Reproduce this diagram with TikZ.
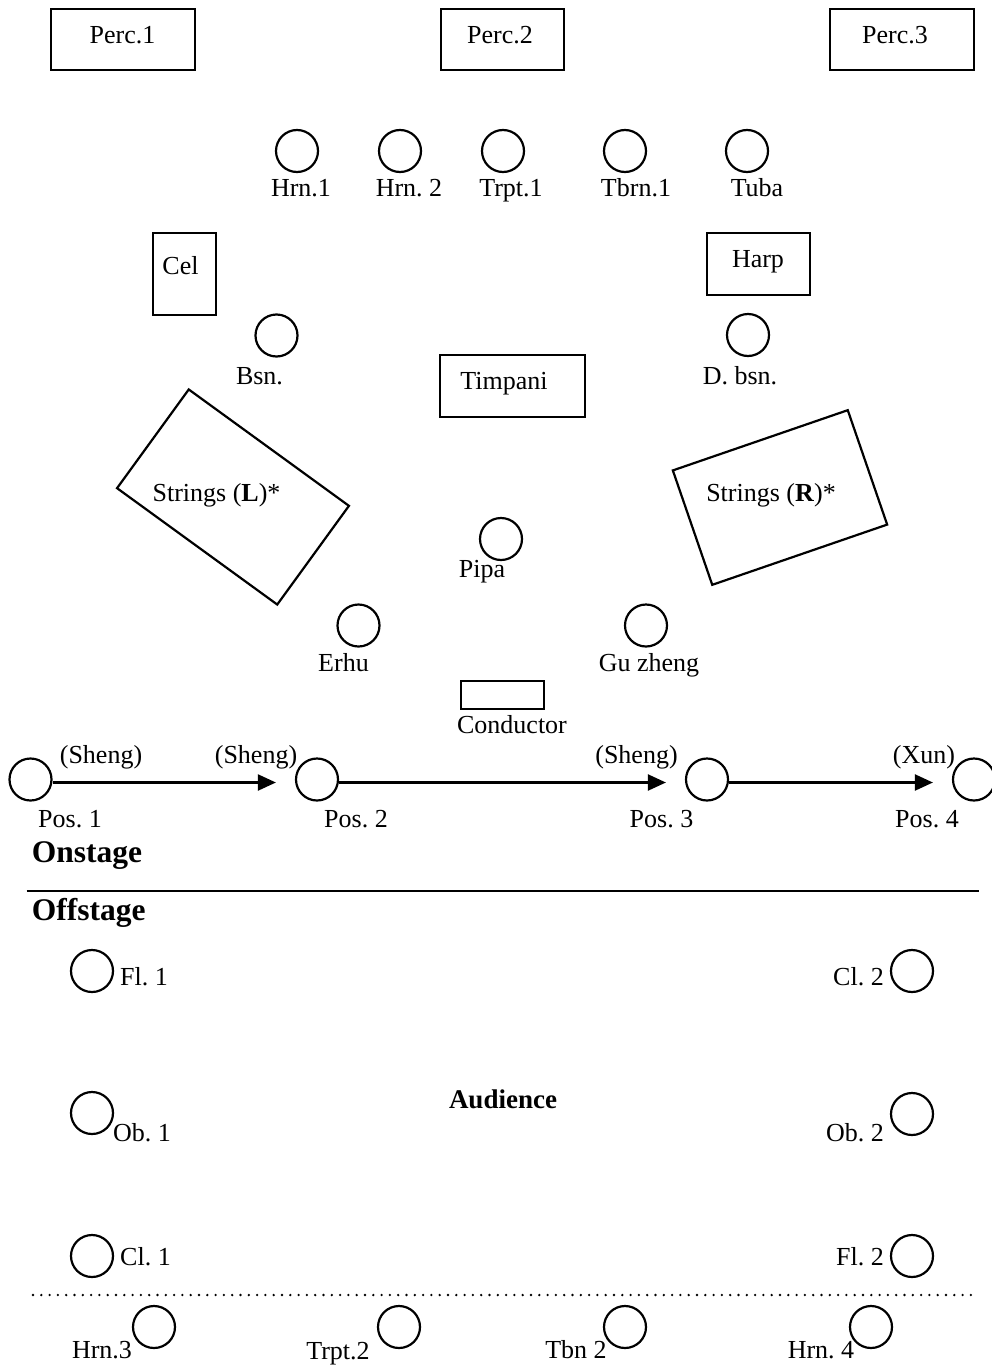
\documentclass[tikz,border=0pt]{standalone}
\usepackage{fontspec}
\setmainfont{Liberation Serif}
\usetikzlibrary{arrows.meta}
\tikzset{
  ins/.style={circle, draw, line width=2.2pt, minimum size=42pt, inner sep=0pt},
  boxn/.style={draw, line width=2.2pt, inner sep=0pt},
  lbl/.style={inner sep=0pt, anchor=base, font=\fontsize{26}{30}\selectfont},
  hd/.style={inner sep=0pt, anchor=base west, font=\fontsize{31.5}{36}\selectfont\bfseries},
  arr/.style={line width=2.2pt, -{Triangle[length=18pt,width=16pt]}},
}
\frenchspacing
\begin{document}
\begin{tikzpicture}[x=1pt,y=-1pt]
\useasboundingbox (0,0) rectangle (992,1365);
% boxes
\node[boxn, minimum width=144pt, minimum height=61pt] (perc1b) at (123,39.5) {};
\node[boxn, minimum width=123pt, minimum height=61pt] (perc2b) at (502.5,39.5) {};
\node[boxn, minimum width=144pt, minimum height=61pt] (perc3b) at (902,39.5) {};
\node[boxn, minimum width=63pt, minimum height=82pt] (celb) at (184.5,274) {};
\node[boxn, minimum width=103pt, minimum height=62pt] (harpb) at (758.5,264) {};
\node[boxn, minimum width=145pt, minimum height=62pt] (timpb) at (512.5,386) {};
\node[boxn, minimum width=83pt, minimum height=28pt] (condb) at (502.5,695) {};
\node[boxn, minimum width=198pt, minimum height=122pt, rotate=-36] (strLb) at (233,497) {};
\node[boxn, minimum width=185pt, minimum height=121pt, rotate=19] (strRb) at (780,497.5) {};
% box texts
\node[lbl] (perc1) at (122.5,43) {Perc.1};
\node[lbl] (perc2) at (500,43) {Perc.2};
\node[lbl] (perc3) at (895,43) {Perc.3};
\node[lbl] (cel) at (180.5,274) {Cel};
\node[lbl] (harp) at (758,267) {Harp};
\node[lbl] (timp) at (504,389) {Timpani};
\node[lbl] (strL) at (216.5,501) {Strings (\textbf{L})*};
\node[lbl] (strR) at (771,501) {Strings (\textbf{R})*};
\node[lbl] (cond) at (512,733) {Conductor};
% circles
\node[ins] (hrn1) at (297,151) {};
\node[ins] (hrn2) at (400,151) {};
\node[ins] (trpt1) at (503,151) {};
\node[ins] (tbrn1) at (625,151) {};
\node[ins] (tuba) at (747,151) {};
\node[ins] (bsn) at (276.5,335.5) {};
\node[ins] (dbsn) at (748,335) {};
\node[ins] (pipa) at (501,539) {};
\node[ins] (erhu) at (358.5,625.5) {};
\node[ins] (guz) at (646,625.5) {};
\node[ins] (p1) at (30.5,779.5) {};
\node[ins] (p2) at (317,779.5) {};
\node[ins] (p3) at (707,779.5) {};
\node[ins] (p4) at (974,779.5) {};
\node[ins] (fl1) at (92,971) {};
\node[ins] (cl2) at (912,971) {};
\node[ins] (ob1) at (92,1113) {};
\node[ins] (ob2) at (912,1114) {};
\node[ins] (cl1) at (92,1256) {};
\node[ins] (fl2) at (912,1256) {};
\node[ins] (hrn3) at (154,1327) {};
\node[ins] (trpt2) at (399,1327) {};
\node[ins] (tbn2) at (625,1327) {};
\node[ins] (hrn4) at (871,1327) {};
% labels
\node[lbl] (hrn1l) at (301,196) {Hrn.1};
\node[lbl] (hrn2l) at (409,196) {Hrn. 2};
\node[lbl] (trpt1l) at (511,196) {Trpt.1};
\node[lbl] (tbrn1l) at (636,196) {Tbrn.1};
\node[lbl] (tubal) at (757,196) {Tuba};
\node[lbl] (bsnl) at (259.5,384) {Bsn.};
\node[lbl] (dbsnl) at (740,384) {D. bsn.};
\node[lbl] (pipal) at (482,577) {Pipa};
\node[lbl] (erhul) at (343.5,671) {Erhu};
\node[lbl] (guzl) at (649,671) {Gu zheng};
\node[lbl] (sh1) at (101,763) {(Sheng)};
\node[lbl] (sh2) at (256,763) {(Sheng)};
\node[lbl] (sh3) at (636.5,763) {(Sheng)};
\node[lbl] (xun) at (924,763) {(Xun)};
\node[lbl] (p1l) at (70,827) {Pos. 1};
\node[lbl] (p2l) at (356,827) {Pos. 2};
\node[lbl] (p3l) at (661.5,827) {Pos. 3};
\node[lbl] (p4l) at (927,827) {Pos. 4};
\node[hd] (onst) at (31.7,862) {Onstage};
\node[hd] (offst) at (31.7,920) {Offstage};
\node[lbl, anchor=base west] (fl1l) at (120,985) {Fl. 1};
\node[lbl, anchor=base west] (ob1l) at (113,1141) {Ob. 1};
\node[lbl, anchor=base west] (cl1l) at (120,1265) {Cl. 1};
\node[lbl, anchor=base east] (cl2l) at (884,985) {Cl. 2};
\node[lbl, anchor=base east] (ob2l) at (884,1141) {Ob. 2};
\node[lbl, anchor=base east] (fl2l) at (884,1265) {Fl. 2};
\node[lbl, font=\fontsize{27}{31}\selectfont\bfseries] (aud) at (503,1108) {Audience};
\node[lbl] (hrn3l) at (102,1358) {Hrn.3};
\node[lbl] (trpt2l) at (338,1359) {Trpt.2};
\node[lbl] (tbn2l) at (576,1358) {Tbn 2};
\node[lbl] (hrn4l) at (821,1358) {Hrn. 4};
% arrows
\draw[arr] ([yshift=-3pt]p1.east) -- ([yshift=-3pt,xshift=-19pt]p2.west);
\draw[arr] ([yshift=-3pt]p2.east) -- ([yshift=-3pt,xshift=-19pt]p3.west);
\draw[arr] ([yshift=-3pt]p3.east) -- ([yshift=-3pt,xshift=-19pt]p4.west);
% separators
\draw[line width=2.2pt] (26.7,891) -- (979,891);
\draw[line width=2.6pt, dash pattern=on 0pt off 8.3pt, line cap=round] (33,1295) -- (972,1295);
\end{tikzpicture}
\end{document}
